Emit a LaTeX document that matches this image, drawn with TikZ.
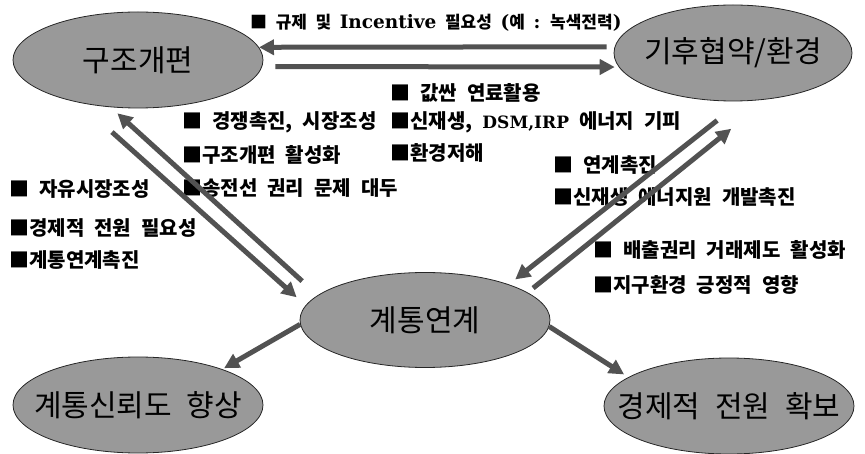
\documentclass[tikz,border=0pt]{standalone}
\usepackage{fontspec}
\setmainfont{Noto Sans CJK KR}[WordSpace=2.2]
\newfontfamily\latfont{DejaVu Serif}
\usetikzlibrary{shapes.geometric,arrows.meta}
\definecolor{bubblegray}{RGB}{153,153,153}
\definecolor{arrowgray}{RGB}{82,82,82}
\newcommand{\lat}[2]{{\latfont\bfseries\fontsize{#1}{#1}\selectfont #2}}

\begin{document}
\begin{tikzpicture}[x=1pt, y=-1pt,
  bubble/.style={shape=ellipse, draw=black!85, fill=bubblegray, line width=0.8pt, minimum width=250pt, minimum height=96pt, inner sep=0pt, font=\fontsize{30}{36}\selectfont},
  note/.style={anchor=west, inner sep=0pt, font=\fontsize{20}{24}\selectfont\bfseries},
  arr/.style={-{Triangle[length=15pt,width=15pt]}, line width=5pt, draw=arrowgray}]
\useasboundingbox (0,0) rectangle (865,454);

\node[bubble] (struct) at (138,60) {\makebox[0pt]{구조개편}};
\node[bubble, minimum width=238pt] (clim) at (733,53) {\makebox[0pt]{기후협약/환경}};
\node[bubble, minimum height=95pt] (merge) at (425,320) {\makebox[0pt]{계통연계}};
\node[bubble] (reli) at (138,405) {\makebox[0pt]{계통신뢰도 향상}};
\node[bubble] (econ) at (729,406) {\makebox[0pt]{경제적 전원 확보}};

\node[note, font=\fontsize{17}{20}\selectfont\bfseries] (rule) at (250,23) {■ 규제 및 \lat{18.5}{Incentive} 필요성 \lat{18.5}{(}예 \lat{18.5}{:} 녹색전력\lat{18.5}{)}};
\node[note] (fuel) at (390,93) {■ 값싼 연료활용};
\node[note] (compete) at (182,122) {■ 경쟁촉진, 시장조성};
\node[note] (avoid) at (390,122) {■신재생, \lat{17}{DSM,IRP} 에너지 기피};
\node[note] (active) at (182,155) {■구조개편 활성화};
\node[note] (harm) at (390,153) {■환경저해};
\node[note] (line) at (182,188) {■송전선 권리 문제 대두};
\node[note] (free) at (9,189) {■ 자유시장조성};
\node[note] (need) at (9,228) {■경제적 전원 필요성};
\node[note] (link) at (9,260) {■계통연계촉진};
\node[note] (promo) at (553,165) {■ 연계촉진};
\node[note] (renew) at (553,197) {■신재생 에너지원 개발촉진};
\node[note] (trade) at (593,250) {■ 배출권리 거래제도 활성화};
\node[note] (earth) at (593,285) {■지구환경 긍정적 영향};

\draw[arr, shorten <=8pt] (clim.177.5) -- (struct.6);
\draw[arr, shorten <=13pt, shorten >=4pt] (struct.357) -- (clim.187);
\draw[arr, shorten <=44pt, shorten >=12pt] (struct.216) -- (merge.173);
\draw[arr, shorten <=21pt, shorten >=9pt] (merge.167.5) -- (struct.240);
\draw[arr, shorten <=31pt, shorten >=8pt] (clim.280) -- (merge.23);
\draw[arr, shorten <=7pt, shorten >=47pt] (merge.15) -- (clim.307);
\draw[arr, shorten >=2pt] (merge.182) -- (reli.23);
\draw[arr, shorten >=5pt] (merge.357) -- (econ.164);
\end{tikzpicture}
\end{document}
